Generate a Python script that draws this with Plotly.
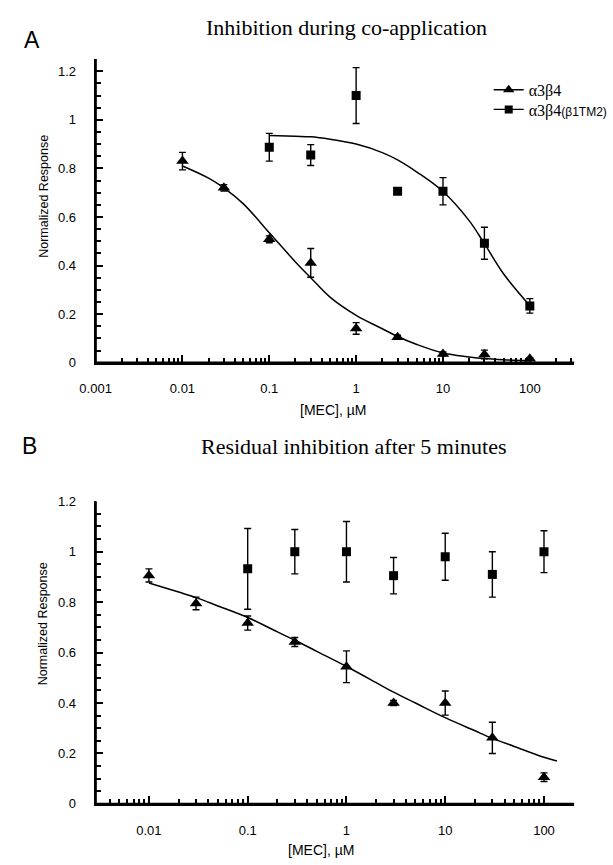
import plotly.graph_objects as go

W, H = 613, 865

# ---------------- data ----------------
conc = [0.01, 0.03, 0.1, 0.3, 1, 3, 10, 30, 100]
conc_mut = [0.1, 0.3, 1, 3, 10, 30, 100]

# Panel A: inhibition during co-application
a_wt = [0.83, 0.72, 0.508, 0.411, 0.141, 0.105, 0.036, 0.034, 0.016]
a_wt_err = [0.036, 0.013, 0.014, 0.059, 0.024, 0.008, 0.008, 0.018, 0.005]
a_mut = [0.887, 0.855, 1.10, 0.706, 0.706, 0.492, 0.234]
a_mut_err = [0.057, 0.043, 0.115, 0.0, 0.056, 0.066, 0.030]

fit_a_wt_x = [0.01, 0.02, 0.03, 0.05, 0.1, 0.2, 0.3, 0.5, 1, 2, 3, 5, 10, 20, 30, 50, 100]
fit_a_wt_y = [0.81, 0.76, 0.72, 0.655, 0.535, 0.415, 0.35, 0.27, 0.195, 0.14, 0.108,
              0.075, 0.04, 0.024, 0.017, 0.012, 0.008]
fit_a_mut_x = [0.1, 0.2, 0.3, 0.5, 1, 2, 3, 5, 10, 20, 30, 50, 100]
fit_a_mut_y = [0.935, 0.932, 0.93, 0.92, 0.90, 0.865, 0.835, 0.785, 0.705, 0.585, 0.49,
               0.365, 0.235]

# Panel B: residual inhibition after 5 minutes
b_wt = [0.906, 0.795, 0.717, 0.642, 0.544, 0.40, 0.40, 0.262, 0.106]
b_wt_err = [0.026, 0.025, 0.028, 0.018, 0.063, 0.01, 0.048, 0.062, 0.017]
b_mut = [0.932, 1.0, 1.0, 0.905, 0.98, 0.91, 1.0]
b_mut_err = [0.16, 0.088, 0.12, 0.072, 0.093, 0.09, 0.083]

fit_b_x = [0.01, 0.02, 0.03, 0.05, 0.1, 0.2, 0.3, 0.5, 1, 2, 3, 5, 10, 20, 30, 50, 100, 135]
fit_b_y = [0.876, 0.84, 0.818, 0.785, 0.739, 0.682, 0.649, 0.605, 0.545, 0.481, 0.443,
           0.40, 0.342, 0.29, 0.26, 0.228, 0.185, 0.17]

x_tickvals_a = [0.001, 0.01, 0.1, 1, 10, 100]
x_ticktext_a = ["0.001", "0.01", "0.1", "1", "10", "100"]
x_tickvals_b = [0.01, 0.1, 1, 10, 100]
x_ticktext_b = ["0.01", "0.1", "1", "10", "100"]
y_tickvals = [0, 0.2, 0.4, 0.6, 0.8, 1.0, 1.2]
y_ticktext = ["0", "0.2", "0.4", "0.6", "0.8", "1", "1.2"]
y_minor = [0.05, 0.1, 0.15, 0.25, 0.3, 0.35, 0.45, 0.5, 0.55, 0.65, 0.7, 0.75,
           0.85, 0.9, 0.95, 1.05, 1.1, 1.15]

legend_wt = "α3β4"
legend_mut = "α3β4<span style='font-family:Liberation Sans, Arial;font-size:12px'>(β1TM2)</span>"

# ---------------- helpers ----------------
def px(x):
    return x / W

def py(y):
    return 1 - y / H

def minor_log(lo_exp, hi_exp):
    vals = []
    for e in range(lo_exp, hi_exp + 1):
        for m in range(2, 10):
            vals.append(m * 10 ** e)
    return vals

BLACK = "black"
CLEAR = "rgba(0,0,0,0)"
err_style = dict(type="data", visible=True, thickness=1.4, width=3.5, color=BLACK)
tick_font = dict(family="Liberation Sans, Arial, sans-serif", size=13, color=BLACK)
serif = "Liberation Serif, Times New Roman, serif"
sans = "Liberation Sans, Arial, sans-serif"

fig = go.Figure()

def line_trace(xs, ys, xa, ya):
    return go.Scatter(x=xs, y=ys, mode="lines", line=dict(color=BLACK, width=1.5, shape="spline"),
                      xaxis=xa, yaxis=ya, showlegend=False, hoverinfo="skip")

def point_trace(xs, ys, err, symbol, size, xa, ya):
    return go.Scatter(x=xs, y=ys, mode="markers", marker=dict(symbol=symbol, size=size, color=BLACK),
                      error_y=dict(array=err, **err_style), xaxis=xa, yaxis=ya, showlegend=False)

# ---- Panel A ----
fig.add_trace(line_trace(fit_a_wt_x, fit_a_wt_y, "x", "y"))
fig.add_trace(line_trace(fit_a_mut_x, fit_a_mut_y, "x", "y"))
fig.add_trace(point_trace(conc, a_wt, a_wt_err, "triangle-up", 11, "x", "y"))
fig.add_trace(point_trace(conc_mut, a_mut, a_mut_err, "square", 9, "x", "y"))

# legend entries (line + marker), one legend per row
fig.add_trace(go.Scatter(x=[None], y=[None], mode="lines+markers", name=legend_wt, legend="legend",
                         line=dict(color=BLACK, width=1.3), marker=dict(symbol="triangle-up", size=10, color=BLACK),
                         xaxis="x", yaxis="y"))
fig.add_trace(go.Scatter(x=[None], y=[None], mode="lines+markers", name=legend_mut, legend="legend2",
                         line=dict(color=BLACK, width=1.3), marker=dict(symbol="square", size=8, color=BLACK),
                         xaxis="x", yaxis="y"))

# ---- Panel B ----
fig.add_trace(line_trace(fit_b_x, fit_b_y, "x2", "y2"))
fig.add_trace(point_trace(conc, b_wt, b_wt_err, "triangle-up", 11, "x2", "y2"))
fig.add_trace(point_trace(conc_mut, b_mut, b_mut_err, "square", 9, "x2", "y2"))

# empty traces so the tick-only overlay axes get subplots
for xa, ya in [("x3", "y"), ("x4", "y"), ("x", "y3"), ("x", "y4"),
               ("x5", "y2"), ("x6", "y2"), ("x2", "y5"), ("x2", "y6")]:
    fig.add_trace(go.Scatter(x=[None], y=[None], mode="markers", xaxis=xa, yaxis=ya,
                             showlegend=False, hoverinfo="skip"))

X_DOM = [px(82), px(575)]
A_DOM = [py(362), py(53)]
B_DOM = [py(811), py(503)]
A_XR = [-3, 2.51]
B_XR = [-2.54, 2.305]
A_YR = [0, 1.25]
B_YR = [0, 1.2]

def x_main(rng, tv, tt, anchor):
    # carries the labels and the axis line; transparent outside ticks set the label distance
    return dict(type="log", range=rng, domain=X_DOM, anchor=anchor,
                showline=True, linecolor=BLACK, linewidth=2,
                showgrid=False, zeroline=False, ticks="outside", ticklen=13, tickcolor=CLEAR,
                tickmode="array", tickvals=tv, ticktext=tt, tickfont=tick_font, fixedrange=True)

def x_ticks(rng, tv, length, width, over, anchor):
    return dict(type="log", range=rng, overlaying=over, anchor=anchor, showline=False,
                showgrid=False, zeroline=False, ticks="inside", ticklen=length, tickwidth=width,
                tickcolor=BLACK, tickmode="array", tickvals=tv, showticklabels=False, fixedrange=True)

def y_main(rng, dom, anchor):
    return dict(range=rng, domain=dom, anchor=anchor,
                showline=True, linecolor=BLACK, linewidth=2,
                showgrid=False, zeroline=False, ticks="outside", ticklen=15, tickcolor=CLEAR,
                tickmode="array", tickvals=y_tickvals, ticktext=y_ticktext, tickfont=tick_font,
                fixedrange=True)

def y_ticks(rng, tv, length, width, over, anchor):
    return dict(range=rng, overlaying=over, anchor=anchor, side="left", showline=False,
                showgrid=False, zeroline=False, ticks="inside", ticklen=length, tickwidth=width,
                tickcolor=BLACK, tickmode="array", tickvals=tv, showticklabels=False, fixedrange=True)

fig.update_layout(
    width=W, height=H,
    margin=dict(l=0, r=0, t=0, b=0),
    paper_bgcolor="white", plot_bgcolor="white",
    # panel A
    xaxis=x_main(A_XR, x_tickvals_a, x_ticktext_a, "y"),
    xaxis3=x_ticks(A_XR, x_tickvals_a, 8, 2, "x", "y"),
    xaxis4=x_ticks(A_XR, minor_log(-3, 2), 5, 1.5, "x", "y"),
    yaxis=y_main(A_YR, A_DOM, "x"),
    yaxis3=y_ticks(A_YR, y_tickvals + [1.25], 7, 2, "y", "x"),
    yaxis4=y_ticks(A_YR, y_minor, 5, 1.5, "y", "x"),
    # panel B
    xaxis2=x_main(B_XR, x_tickvals_b, x_ticktext_b, "y2"),
    xaxis5=x_ticks(B_XR, x_tickvals_b, 8, 2, "x2", "y2"),
    xaxis6=x_ticks(B_XR, minor_log(-3, 1)[2:], 5, 1.5, "x2", "y2"),
    yaxis2=y_main(B_YR, B_DOM, "x2"),
    yaxis5=y_ticks(B_YR, y_tickvals, 7, 2, "y2", "x2"),
    yaxis6=y_ticks(B_YR, y_minor, 5, 1.5, "y2", "x2"),
    showlegend=True,
    legend=dict(x=px(487), y=py(67), xanchor="left", yanchor="top",
                bgcolor=CLEAR, borderwidth=0,
                font=dict(family=serif, size=16, color=BLACK)),
    legend2=dict(x=px(487), y=py(87), xanchor="left", yanchor="top",
                 bgcolor=CLEAR, borderwidth=0,
                 font=dict(family=serif, size=16, color=BLACK)),
)

# axis frame lines (left and bottom of each panel)
shapes = []
for xr, yr in [("x domain", "y domain"), ("x2 domain", "y2 domain")]:
    shapes.append(dict(type="line", xref=xr, yref=yr, x0=0, x1=1, y0=0, y1=0,
                       line=dict(color=BLACK, width=2.5), layer="above"))
    shapes.append(dict(type="line", xref=xr, yref=yr, x0=0, x1=0, y0=0, y1=1,
                       line=dict(color=BLACK, width=2.5), layer="above"))

annotations = [
    dict(text="Inhibition during co-application", x=px(340), y=py(21), font=dict(family=serif, size=22)),
    dict(text="A", x=px(16), y=py(34), font=dict(family=sans, size=23)),
    dict(text="Normalized Response", x=px(28), y=py(193), textangle=-90, font=dict(family=sans, size=12.5)),
    dict(text="[MEC], µM", x=px(327), y=py(410), font=dict(family=sans, size=14)),
    dict(text="Residual inhibition after 5 minutes", x=px(348), y=py(447), font=dict(family=serif, size=22)),
    dict(text="B", x=px(14), y=py(447), font=dict(family=sans, size=23)),
    dict(text="Normalized Response", x=px(28), y=py(628), textangle=-90, font=dict(family=sans, size=12.5)),
    dict(text="[MEC], µM", x=px(314), y=py(858), font=dict(family=sans, size=14)),
]
for a in annotations:
    a.update(xref="paper", yref="paper", showarrow=False, xanchor="center", yanchor="middle")
    a["font"]["color"] = BLACK

fig.update_layout(shapes=shapes, annotations=annotations)

# the page is exactly the window size: remove the default body margin and the mode bar
fig.write_html("out.html", config={"displayModeBar": False},
               post_script="document.body.style.margin='0px';document.body.style.overflow='hidden';")
